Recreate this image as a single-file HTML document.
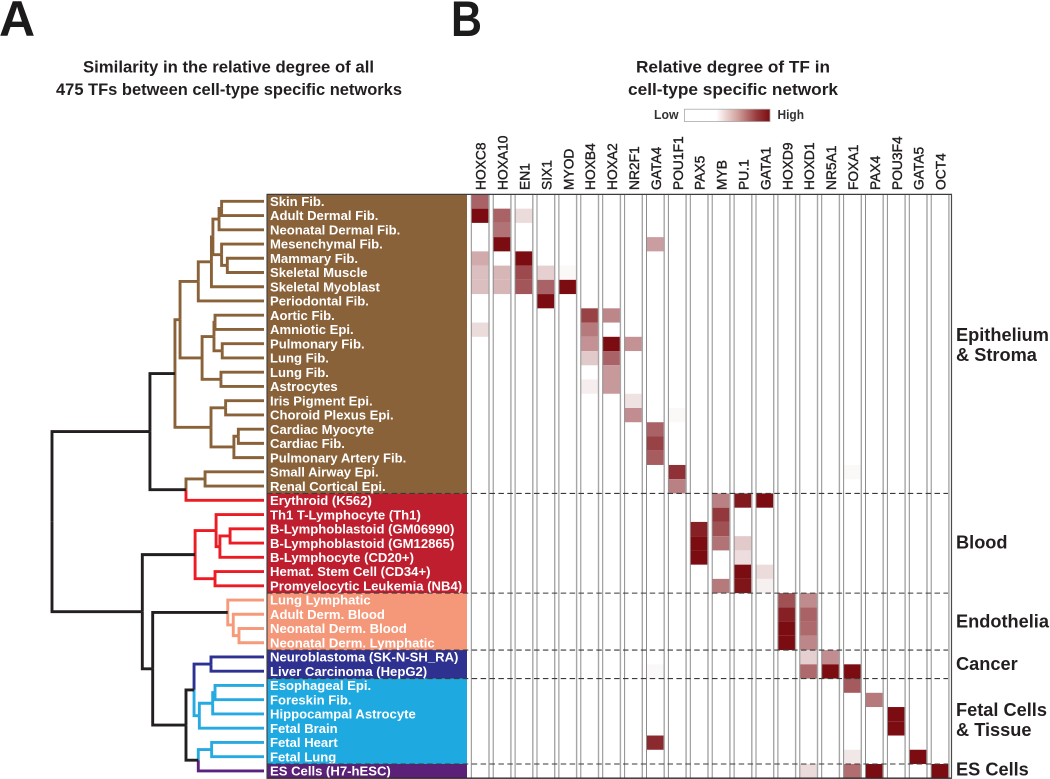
<!DOCTYPE html>
<html lang="en">
<head>
<meta charset="utf-8">
<title>Cell-type specific networks</title>
<style>
html,body{margin:0;padding:0;background:#fff;width:1050px;height:779px;overflow:hidden}
svg{display:block;font-family:"Liberation Sans",sans-serif}
.panel{font-weight:700;font-size:50px;fill:#1c1a1b}
.title{font-weight:700;font-size:17px;fill:#231f20;text-anchor:middle}
.legend{font-weight:700;font-size:13.2px;fill:#333}
.group{font-weight:700;font-size:18.2px;fill:#231f20}
.rowl{font-weight:700;font-size:13.1px;fill:#fff}
.coll{font-size:13.8px;fill:#231f20;stroke:#231f20;stroke-width:.4px}
</style>
</head>
<body>
<svg id="chart" width="1050" height="779" viewBox="0 0 1050 779" xmlns="http://www.w3.org/2000/svg">
  <defs>
    <linearGradient id="legendGradient" x1="0" x2="1" y1="0" y2="0">
      <stop offset="0" stop-color="#fff"/>
      <stop offset="0.37" stop-color="#fff"/>
      <stop offset="0.62" stop-color="#d2a29e"/>
      <stop offset="0.85" stop-color="#97383a"/>
      <stop offset="1" stop-color="#7b0d12"/>
    </linearGradient>
  </defs>
  <text class="panel" x="-1" y="36">A</text>
  <text class="panel" x="451" y="36" textLength="31" lengthAdjust="spacingAndGlyphs">B</text>
  <text class="title" x="228.5" y="72.5" textLength="291" lengthAdjust="spacingAndGlyphs">Similarity in the relative degree of all</text>
  <text class="title" x="229" y="95" textLength="346" lengthAdjust="spacingAndGlyphs">475 TFs between cell-type specific networks</text>
  <text class="title" x="733" y="72.5" textLength="194" lengthAdjust="spacingAndGlyphs">Relative degree of TF in</text>
  <text class="title" x="733" y="95" textLength="210" lengthAdjust="spacingAndGlyphs">cell-type specific network</text>
  <text class="legend" x="654" y="119" textLength="24.5" lengthAdjust="spacingAndGlyphs">Low</text>
  <rect x="684.5" y="109.2" width="85.5" height="12.4" fill="url(#legendGradient)" stroke="#aaa" stroke-width=".8"/>
  <text class="legend" x="777.5" y="119" textLength="26.5" lengthAdjust="spacingAndGlyphs">High</text>
  <text class="group" x="956" y="341">Epithelium</text>
  <text class="group" x="956" y="361">&amp; Stroma</text>
  <text class="group" x="956" y="548.5">Blood</text>
  <text class="group" x="956" y="627.5">Endothelia</text>
  <text class="group" x="956" y="670">Cancer</text>
  <text class="group" x="956" y="716">Fetal Cells</text>
  <text class="group" x="956" y="736">&amp; Tissue</text>
  <text class="group" x="956" y="775.5">ES Cells</text>
  <g id="dendrogram"></g>
  <g id="rows"></g>
  <g id="cells"></g>
  <g id="grid"></g>
  <g id="columns"></g>
</svg>
<script>
// ---- categories ----
const rowLabels = ["Skin Fib.","Adult Dermal Fib.","Neonatal Dermal Fib.","Mesenchymal Fib.","Mammary Fib.","Skeletal Muscle","Skeletal Myoblast","Periodontal Fib.","Aortic Fib.","Amniotic Epi.","Pulmonary Fib.","Lung Fib.","Lung Fib.","Astrocytes","Iris Pigment Epi.","Choroid Plexus Epi.","Cardiac Myocyte","Cardiac Fib.","Pulmonary Artery Fib.","Small Airway Epi.","Renal Cortical Epi.","Erythroid (K562)","Th1 T-Lymphocyte (Th1)","B-Lymphoblastoid (GM06990)","B-Lymphoblastoid (GM12865)","B-Lymphocyte (CD20+)","Hemat. Stem Cell (CD34+)","Promyelocytic Leukemia (NB4)","Lung Lymphatic","Adult Derm. Blood","Neonatal Derm. Blood","Neonatal Derm. Lymphatic","Neuroblastoma (SK-N-SH_RA)","Liver Carcinoma (HepG2)","Esophageal Epi.","Foreskin Fib.","Hippocampal Astrocyte","Fetal Brain","Fetal Heart","Fetal Lung","ES Cells (H7-hESC)"];
const tfNames = ["HOXC8","HOXA10","EN1","SIX1","MYOD","HOXB4","HOXA2","NR2F1","GATA4","POU1F1","PAX5","MYB","PU.1","GATA1","HOXD9","HOXD1","NR5A1","FOXA1","PAX4","POU3F4","GATA5","OCT4"];
const groupNames = ["epithelium-stroma","blood","endothelia","cancer","fetal","es-cells"];
const groupSizes = [21,7,4,2,6,1];

// ---- series: [row, relative degree 0..1] ----
const valHOXC8 = [[0,.65],[1,1],[4,.35],[5,.27],[6,.27],[9,.15]];
const valHOXA10 = [[1,.65],[2,.58],[3,1],[5,.3],[6,.3]];
const valEN1 = [[1,.15],[4,1],[5,.75],[6,.7]];
const valSIX1 = [[5,.2],[6,.65],[7,1]];
const valMYOD = [[5,.03],[6,1]];
const valHOXB4 = [[8,.78],[9,.55],[10,.45],[11,.22],[13,.07]];
const valHOXA2 = [[8,.5],[10,1],[11,.65],[12,.42],[13,.42]];
const valNR2F1 = [[10,.45],[14,.12],[15,.47]];
const valGATA4 = [[3,.4],[16,.65],[17,.78],[18,.67],[33,.03],[38,.88]];
const valPOU1F1 = [[15,.03],[19,.85],[20,.52]];
const valPAX5 = [[23,.92],[24,1],[25,1]];
const valMYB = [[21,.52],[22,.82],[23,.72],[24,.58],[27,.55]];
const valPU1 = [[21,.95],[24,.22],[25,.14],[26,1],[27,.97]];
const valGATA1 = [[21,1],[26,.15],[27,.06]];
const valHOXD9 = [[28,.72],[29,.92],[30,1],[31,1]];
const valHOXD1 = [[28,.48],[29,.65],[30,.62],[31,.5],[32,.2],[33,.62],[40,.15]];
const valNR5A1 = [[32,.47],[33,1]];
const valFOXA1 = [[19,.03],[33,1],[34,.68],[39,.1],[40,.6]];
const valPAX4 = [[35,.55],[40,1]];
const valPOU3F4 = [[36,1],[37,1]];
const valGATA5 = [[39,1]];
const valOCT4 = [[40,1]];
const tfSeries = [valHOXC8,valHOXA10,valEN1,valSIX1,valMYOD,valHOXB4,valHOXA2,valNR2F1,valGATA4,valPOU1F1,valPAX5,valMYB,valPU1,valGATA1,valHOXD9,valHOXD1,valNR5A1,valFOXA1,valPAX4,valPOU3F4,valGATA5,valOCT4];

// ---- dendrogram merges: [left child, right child, merge height 0..100]. numbers are leaves, strings are earlier merges ----
const merges = {
 n1:[0,1,20], n2:['n1',2,21.2], n3:[4,5,17.3], n4:[3,'n3',20], n5:['n2','n4',24.1], n6:['n5',6,24.8], n7:['n6',7,31],
 n8:[8,9,23.1], n9:[10,11,19.7], n10:['n8','n9',23.6], n11:[12,13,20.3], n12:['n10','n11',29.2], n13:['n7','n12',39.6],
 n14:[14,15,18.1], n15:[16,17,12.1], n16:['n15',18,14.2], n17:['n14','n16',25], n18:['n13','n17',42],
 n19:[19,20,27.8], n20:['n19',21,36.8], n21:['n18','n20',53.8],
 n22:[23,24,16], n23:['n22',25,20.8], n24:[22,'n23',22.6], n25:[26,27,23.1], n26:['n24','n25',32.5],
 n27:[30,31,11.8], n28:[29,'n27',14.5], n29:[28,'n28',17.1],
 n30:[32,33,25], n31:[34,35,23.1], n32:['n31',36,24.2], n33:['n32',37,30.5], n34:['n30','n33',33],
 n35:[38,39,24.7], n36:['n35',40,31], n37:['n34','n36',36.8], n38:['n29','n37',52.5], n39:['n26','n38',57.4], n40:['n21','n39',100]
};

// ---- styles and scales ----
const groupFill = ["#8a6239","#bf1e2e","#f5987a","#2e3190","#1fa9e1","#5b2178"];
const groupLine = ["#8a6239","#ed1c24","#f79a7a","#2e3192","#27aae1","#5b2180"];
const NS = "http://www.w3.org/2000/svg";
const rowH = 14.24, rowTop = 194.4, colPitch = 21.9, colLeft = 471.6, cellW = 17;
function yRowTop(r){ return rowTop + rowH * r; }
function yLeaf(r){ return 201.3 + rowH * r; }
function xCol(c){ return colLeft + colPitch * c; }
function xHeight(h){ return 264 - 2.12 * h; }
function heatColor(v){
  const a=[255,255,255], b=[123,13,18];
  return "rgb("+a.map((s,i)=>Math.round(s+(b[i]-s)*v)).join(",")+")";
}
function make(tag, attrs, parent){
  const el = document.createElementNS(NS, tag);
  for (const k in attrs) el.setAttribute(k, attrs[k]);
  parent.appendChild(el);
  return el;
}
function groupOfRow(r){
  let s = 0;
  for (let g = 0; g < groupSizes.length; g++){ s += groupSizes[g]; if (r < s) return g; }
  return groupSizes.length - 1;
}

// ---- label boxes ----
const rowsG = document.getElementById("rows");
let startRow = 0;
groupSizes.forEach((n, g) => {
  const box = make("rect", {x:267, y:yRowTop(startRow), width:200, height:rowH*n, fill:groupFill[g]}, rowsG);
  
  
  startRow += n;
});
rowLabels.forEach((label, r) => {
  const t = make("text", {class:"rowl", x:270, y:206 + rowH*r}, rowsG);
  
  
  t.textContent = label;
});

// ---- heatmap cells ----
const cellsG = document.getElementById("cells");
tfSeries.forEach((series, c) => {
  series.forEach(([r, v]) => {
    const cell = make("rect", {x:xCol(c), y:yRowTop(r), width:cellW, height:rowH, fill:heatColor(v)}, cellsG);
    
    
  });
});

// ---- grid ----
const gridG = document.getElementById("grid");
const gridBottom = yRowTop(rowLabels.length);
tfNames.forEach((name, c) => {
  const lx = xCol(c) - .3, rx = xCol(c) + cellW + .4;
  const left = make("line", {x1:lx, x2:lx, y1:rowTop, y2:gridBottom, stroke:"#8c8c8c", "stroke-width":1}, gridG);
  
  
  const right = make("line", {x1:rx, x2:rx, y1:rowTop, y2:gridBottom, stroke:"#a6a6a6", "stroke-width":1.4}, gridG);
  
  
});
let boundary = 0;
groupSizes.slice(0, -1).forEach(n => {
  boundary += n;
  const y = yRowTop(boundary);
  const dash = make("line", {x1:267, x2:948, y1:y, y2:y, stroke:"#3a3a3a", "stroke-width":1.1, "stroke-dasharray":"5.5 3.4"}, gridG);
  
  
});
const frameTop = make("line", {x1:266.5, x2:952, y1:rowTop, y2:rowTop, stroke:"#3c3c3c", "stroke-width":1.2}, gridG);


const frameBottom = make("line", {x1:266.5, x2:952, y1:778.2, y2:778.2, stroke:"#2a2a2a", "stroke-width":1.3}, gridG);


const frameLeft = make("line", {x1:267, x2:267, y1:rowTop, y2:778.6, stroke:"#3c3c3c", "stroke-width":1.1}, gridG);


const frameRight = make("line", {x1:951.5, x2:951.5, y1:rowTop, y2:778.6, stroke:"#4a4a4a", "stroke-width":1.2}, gridG);



// ---- tf labels ----
const colG = document.getElementById("columns");
tfNames.forEach((name, c) => {
  const x = xCol(c) + cellW/2 + 5.6;
  const t = make("text", {class:"coll", transform:"translate("+x+",190) rotate(-90)"}, colG);
  
  
  t.textContent = name;
});

// ---- dendrogram ----
const dendroG = document.getElementById("dendrogram");
const nodeInfo = {};
function info(ref){
  if (typeof ref === "number") return {y:yLeaf(ref), x:xHeight(0), group:groupOfRow(ref)};
  return nodeInfo[ref];
}
Object.keys(merges).forEach(id => {
  const [l, r, h] = merges[id];
  const a = info(l), b = info(r);
  const x = xHeight(h), mid = (a.y + b.y) / 2;
  const bothMono = a.group !== null && b.group !== null;
  const colA = bothMono ? groupLine[a.group] : "#231f20";
  const colB = bothMono ? groupLine[b.group] : "#231f20";
  const width = 2.9;
  const upper = make("path", {d:"M"+a.x+" "+a.y+"H"+x+"V"+mid, fill:"none", stroke:colA, "stroke-width":width, "stroke-linejoin":"miter"}, dendroG);
  
  
  const lower = make("path", {d:"M"+b.x+" "+b.y+"H"+x+"V"+mid, fill:"none", stroke:colB, "stroke-width":width, "stroke-linejoin":"miter"}, dendroG);
  
  
  nodeInfo[id] = {y:mid, x:x, group:(a.group !== null && a.group === b.group) ? a.group : null};
});
</script>
</body>
</html>
